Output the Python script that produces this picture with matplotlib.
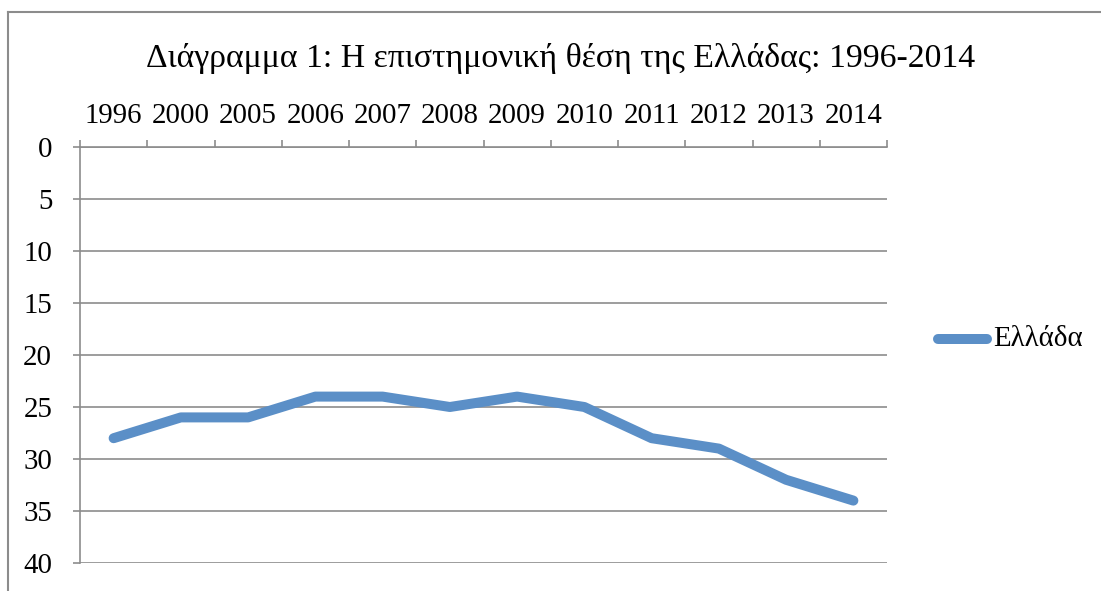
import matplotlib.pyplot as plt
from matplotlib.lines import Line2D

years = ["1996", "2000", "2005", "2006", "2007", "2008", "2009", "2010", "2011", "2012", "2013", "2014"]
rank = [28, 26, 26, 24, 24, 25, 24, 25, 28, 29, 32, 34]
series_name = "Ελλάδα"
title = "Διάγραμμα 1: Η επιστημονική θέση της Ελλάδας: 1996-2014"

plt.rcParams['font.family'] = ['Liberation Serif', 'DejaVu Serif']
W, H = 1101, 591
fig = plt.figure(figsize=(W / 100, H / 100), dpi=100)

# outer chart frame (cut at right and bottom)
fig.add_artist(Line2D([8 / W, 8 / W], [0, 1 - 12 / H], color="#8c8c8c", lw=1.5))
fig.add_artist(Line2D([8 / W, 1], [1 - 12 / H, 1 - 12 / H], color="#8c8c8c", lw=1.5))

ax = fig.add_axes([80 / W, (H - 563) / H, (887 - 80) / W, (563 - 147) / H])
x = range(len(years))
ax.plot(x, rank, color="#5b8fc7", lw=7.2, solid_capstyle="round", solid_joinstyle="round")

ax.set_xlim(-0.5, len(years) - 0.5)
ax.set_ylim(40, 0)
ax.set_yticks(range(0, 41, 5))
ax.yaxis.grid(True, color="#8c8c8c", lw=1.2)
ax.set_axisbelow(True)

ax.xaxis.tick_top()
ax.set_xticks([i - 0.5 for i in range(len(years) + 1)])
ax.set_xticklabels([])
ax.set_xticks(list(x), minor=True)
ax.set_xticklabels(years, minor=True, fontsize=20.8)
ax.tick_params(axis="x", which="major", length=5, width=1.2, color="#8c8c8c", direction="out")
ax.tick_params(axis="x", which="minor", length=0, pad=13)
ax.tick_params(axis="y", length=5, width=1.2, color="#8c8c8c", labelsize=20.8, pad=15)

for s in ["right", "bottom"]:
    ax.spines[s].set_visible(False)
for s in ["left", "top"]:
    ax.spines[s].set_color("#8c8c8c")
    ax.spines[s].set_linewidth(1.2)

fig.text(561 / W, 1 - 58 / H, title, ha="center", va="center", fontsize=24.3)

fig.add_artist(Line2D([938 / W, 987 / W], [1 - 339 / H, 1 - 339 / H], color="#5b8fc7", lw=7.2,
                      solid_capstyle="round"))
fig.text(993 / W, 1 - 339 / H, series_name, ha="left", va="center", fontsize=20.8)

fig.savefig("out.png", dpi=100)
